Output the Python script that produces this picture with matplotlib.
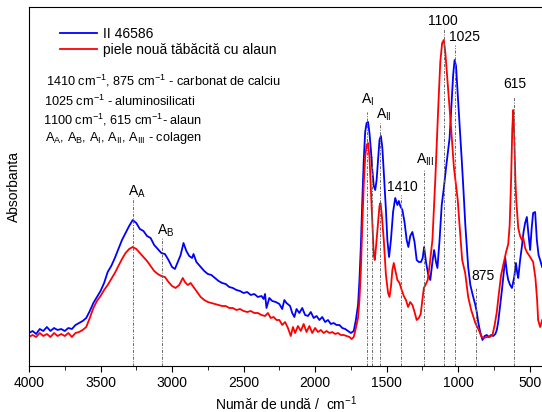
import matplotlib
matplotlib.use("Agg")
import matplotlib.pyplot as plt
from matplotlib.ticker import MultipleLocator

plt.rcParams['font.family'] = ['Liberation Sans', 'DejaVu Sans']
plt.rcParams['mathtext.fontset'] = 'custom'
plt.rcParams['mathtext.rm'] = 'Liberation Sans'
plt.rcParams['mathtext.it'] = 'Liberation Sans'
plt.rcParams['mathtext.default'] = 'regular'

# Spectrul probei II 46586 (unitati arbitrare)
blue_wn = [4000, 3975, 3950, 3925, 3900, 3875, 3850, 3825, 3800, 3775, 3750, 3725, 3700, 3675,
           3650, 3625, 3600, 3575, 3550, 3525, 3500, 3475, 3450, 3425, 3400, 3375, 3350, 3325,
           3300, 3275, 3250, 3225, 3200, 3175, 3150, 3125, 3100, 3075, 3050, 3025, 3000, 2980,
           2960, 2940, 2920, 2900, 2880, 2860, 2850, 2830, 2800, 2775, 2750, 2725, 2700, 2675,
           2650, 2625, 2600, 2575, 2550, 2525, 2500, 2475, 2450, 2425, 2400, 2375, 2360, 2350,
           2340, 2320, 2300, 2275, 2250, 2230, 2215, 2200, 2175, 2160, 2145, 2130, 2110, 2090,
           2070, 2050, 2030, 2010, 1990, 1970, 1950, 1930, 1910, 1890, 1870, 1850, 1830, 1810,
           1790, 1770, 1750, 1730, 1715, 1700, 1690, 1680, 1670, 1660, 1650, 1640, 1630, 1620,
           1610, 1600, 1590, 1580, 1570, 1560, 1550, 1540, 1530, 1520, 1505, 1495, 1483, 1470,
           1455, 1440, 1425, 1415, 1405, 1390, 1375, 1360, 1348, 1335, 1320, 1305, 1290, 1275,
           1260, 1248, 1238, 1225, 1210, 1195, 1180, 1168, 1155, 1145, 1130, 1115, 1100, 1085,
           1070, 1060, 1045, 1035, 1025, 1015, 1005, 990, 975, 963, 950, 930, 915, 900, 880,
           870, 860, 846, 830, 815, 800, 785, 770, 755, 740, 730, 720, 705, 694, 680, 671, 659,
           650, 637, 624, 615, 608, 596, 588, 580, 567, 555, 543, 532, 520, 508, 497, 486, 476,
           462, 450, 438, 427, 413]
blue_abs = [0.33, 0.35, 0.32, 0.37, 0.35, 0.39, 0.35, 0.38, 0.36, 0.37, 0.35, 0.38, 0.37, 0.41,
            0.43, 0.45, 0.48, 0.55, 0.63, 0.69, 0.75, 0.83, 0.94, 1.00, 1.08, 1.17, 1.26, 1.33,
            1.40, 1.46, 1.43, 1.37, 1.35, 1.30, 1.28, 1.21, 1.17, 1.13, 1.12, 1.06, 0.99, 0.97,
            1.04, 1.11, 1.23, 1.15, 1.10, 1.08, 1.12, 1.04, 0.99, 0.95, 0.92, 0.91, 0.88, 0.85,
            0.83, 0.82, 0.79, 0.78, 0.76, 0.75, 0.73, 0.74, 0.71, 0.72, 0.69, 0.70, 0.67, 0.72,
            0.58, 0.68, 0.65, 0.64, 0.62, 0.57, 0.66, 0.63, 0.60, 0.53, 0.49, 0.57, 0.53, 0.58,
            0.51, 0.50, 0.54, 0.48, 0.50, 0.46, 0.49, 0.44, 0.46, 0.42, 0.43, 0.41, 0.41, 0.38,
            0.37, 0.35, 0.33, 0.35, 0.46, 0.61, 0.86, 1.21, 1.66, 2.06, 2.34, 2.43, 2.44, 2.33,
            2.16, 1.96, 1.80, 1.76, 1.86, 2.06, 2.26, 2.30, 2.18, 1.94, 1.56, 1.26, 1.09, 1.26,
            1.54, 1.68, 1.61, 1.65, 1.60, 1.56, 1.44, 1.26, 1.19, 1.30, 1.34, 1.24, 1.06, 1.04,
            1.04, 1.08, 1.19, 1.04, 0.92, 0.86, 1.04, 1.16, 1.04, 0.98, 1.26, 1.61, 1.78, 1.98,
            2.16, 2.28, 2.66, 2.91, 3.06, 3.00, 2.76, 2.41, 2.06, 1.76, 1.41, 0.99, 0.81, 0.72, 0.61,
            0.54, 0.44, 0.34, 0.26, 0.30, 0.31, 0.29, 0.31, 0.30, 0.32, 0.36, 0.44, 0.63, 0.76,
            0.96, 1.08, 0.93, 0.86, 0.81, 0.78, 0.84, 0.89, 1.03, 0.94, 0.88, 1.06, 1.19, 1.34,
            1.43, 1.49, 1.31, 1.16, 1.38, 1.53, 1.54, 1.26, 1.11, 1.06, 0.99]

# Spectrul pielii noi tabacite cu alaun
red_wn = [4000, 3975, 3950, 3925, 3900, 3875, 3850, 3825, 3800, 3775, 3750, 3725, 3700, 3675,
          3650, 3625, 3600, 3575, 3550, 3525, 3500, 3475, 3450, 3425, 3400, 3375, 3350, 3325,
          3300, 3275, 3250, 3225, 3200, 3175, 3150, 3125, 3100, 3075, 3050, 3025, 3000, 2975,
          2950, 2925, 2910, 2890, 2870, 2850, 2825, 2800, 2775, 2750, 2725, 2700, 2675, 2650,
          2625, 2600, 2575, 2550, 2525, 2500, 2475, 2450, 2425, 2400, 2375, 2350, 2330, 2310,
          2290, 2270, 2250, 2230, 2210, 2190, 2170, 2155, 2140, 2120, 2100, 2080, 2060, 2040,
          2020, 2000, 1980, 1960, 1940, 1920, 1900, 1880, 1860, 1840, 1820, 1800, 1780, 1760,
          1745, 1730, 1715, 1700, 1690, 1680, 1670, 1660, 1650, 1640, 1630, 1620, 1610, 1600,
          1590, 1583, 1575, 1560, 1550, 1543, 1535, 1520, 1505, 1490, 1480, 1470, 1460, 1450,
          1440, 1425, 1410, 1395, 1380, 1365, 1350, 1335, 1320, 1305, 1290, 1275, 1262, 1250,
          1240, 1225, 1213, 1200, 1180, 1160, 1140, 1125, 1112, 1100, 1090, 1075, 1060, 1050,
          1030, 1003, 993, 972, 951, 930, 909, 880, 856, 836, 820, 800, 780, 760, 745, 730, 715,
          700, 680, 665, 650, 640, 630, 622, 615, 608, 600, 594, 580, 567, 555, 546, 532, 520,
          497, 476, 460, 448, 441, 427, 413]
red_abs = [0.29, 0.31, 0.29, 0.33, 0.30, 0.32, 0.29, 0.33, 0.30, 0.32, 0.30, 0.33, 0.29, 0.33,
           0.34, 0.36, 0.39, 0.48, 0.58, 0.65, 0.70, 0.76, 0.81, 0.87, 0.93, 1.00, 1.07, 1.13,
           1.17, 1.19, 1.17, 1.13, 1.09, 1.05, 1.00, 0.95, 0.92, 0.90, 0.89, 0.84, 0.80, 0.78,
           0.81, 0.88, 0.84, 0.81, 0.83, 0.79, 0.74, 0.69, 0.66, 0.64, 0.63, 0.62, 0.61, 0.60,
           0.60, 0.58, 0.58, 0.56, 0.57, 0.55, 0.54, 0.55, 0.53, 0.53, 0.51, 0.50, 0.53, 0.48,
           0.49, 0.46, 0.46, 0.41, 0.44, 0.38, 0.30, 0.39, 0.33, 0.40, 0.35, 0.42, 0.34, 0.40,
           0.33, 0.38, 0.34, 0.36, 0.33, 0.35, 0.33, 0.34, 0.32, 0.33, 0.31, 0.31, 0.30, 0.29,
           0.27, 0.29, 0.38, 0.48, 0.66, 0.96, 1.41, 1.81, 2.09, 2.21, 2.23, 2.09, 1.76, 1.41,
           1.11, 1.06, 1.18, 1.44, 1.60, 1.63, 1.53, 1.26, 0.91, 0.73, 0.69, 0.79, 0.96, 1.03,
           0.96, 0.86, 0.83, 0.76, 0.70, 0.66, 0.59, 0.64, 0.61, 0.54, 0.46, 0.48, 0.52, 0.66,
           0.78, 0.82, 0.86, 1.00, 1.26, 1.86, 2.56, 3.04, 3.23, 3.26, 3.14, 2.86, 2.58, 2.39,
           1.99, 1.66, 1.46, 1.06, 0.93, 0.69, 0.56, 0.43, 0.36, 0.29, 0.28, 0.29, 0.29, 0.31,
           0.41, 0.54, 0.73, 0.91, 1.04, 1.14, 1.22, 1.41, 1.86, 2.36, 2.56, 2.31, 1.86, 1.66,
           1.38, 1.30, 1.26, 1.29, 1.18, 1.14, 1.09, 1.04, 0.88, 0.66, 0.46, 0.39, 0.46]

# Benzi marcate
band_wn = [3270, 3070, 1635, 1600, 1545, 1400, 1240, 1100, 1025, 875, 610]
band_labels = ['$A_A$', '$A_B$', '$A_I$', '', '$A_{II}$', '1410', '$A_{III}$',
               '1100', '1025', '875', '615']
# capatul de sus al liniei si pozitia etichetei (x, y)
band_top = [1.68, 1.28, 2.54, 2.10, 2.43, 1.71, 1.96, 3.38, 3.21, 0.79, 2.69]
label_pos = [(3245, 1.66), (3042, 1.27), (1630, 2.58), (None, None), (1521, 2.43),
             (1388, 1.72), (1234, 1.98), (1108, 3.38), (958, 3.22), (829, 0.83), (605, 2.75)]

fig = plt.figure(figsize=(5.42, 4.12), dpi=100)
ax = fig.add_axes([29/542, 46/412, 515/542, 359/412])

ax.vlines(band_wn, 0, band_top, colors='#666666', linewidth=0.7,
          linestyles=(0, (3, 1.5, 1, 1.5)), zorder=3)

ax.plot(blue_wn, blue_abs, color='#0000ff', lw=1.3, label='II 46586', zorder=2)
ax.plot(red_wn, red_abs, color='#ff0000', lw=1.3, label='piele nouă tăbăcită cu alaun', zorder=2)

for lab, (x, y) in zip(band_labels, label_pos):
    if lab:
        ax.text(x, y, lab, ha='center', va='bottom', fontsize=10)

ax.set_xlim(4000, 400)
ax.set_ylim(0, 3.59)
ax.set_xticks([4000, 3500, 3000, 2500, 2000, 1500, 1000, 500])
ax.xaxis.set_minor_locator(MultipleLocator(250))
ax.tick_params(axis='x', which='major', direction='out', length=4.5, labelsize=10, pad=3)
ax.tick_params(axis='x', which='minor', direction='out', length=3)
ax.set_yticks([])
ax.spines['right'].set_visible(False)

ax.set_xlabel('Număr de undă /  cm$^{-1}$', fontsize=10, labelpad=3)
ax.set_ylabel('Absorbanta', fontsize=10, labelpad=6)

ax.legend(loc='upper left', bbox_to_anchor=(0.035, 0.98), frameon=False, fontsize=10,
          handlelength=2.7, labelspacing=0.15, handletextpad=0.4)

notes = ['1410 cm$^{-1}$, 875 cm$^{-1}$ - carbonat de calciu',
         '1025 cm$^{-1}$ - aluminosilicati',
         '1100 cm$^{-1}$, 615 cm$^{-1}$- alaun',
         '$A_A$, $A_B$, $A_I$, $A_{II}$, $A_{III}$ - colagen']
note_x = [0.033, 0.029, 0.027, 0.031]
note_y = [0.794, 0.738, 0.685, 0.635]
for t, x, y in zip(notes, note_x, note_y):
    ax.text(x, y, t, transform=ax.transAxes, ha='left', va='center', fontsize=9.2)

fig.savefig('out.png', dpi=100)
